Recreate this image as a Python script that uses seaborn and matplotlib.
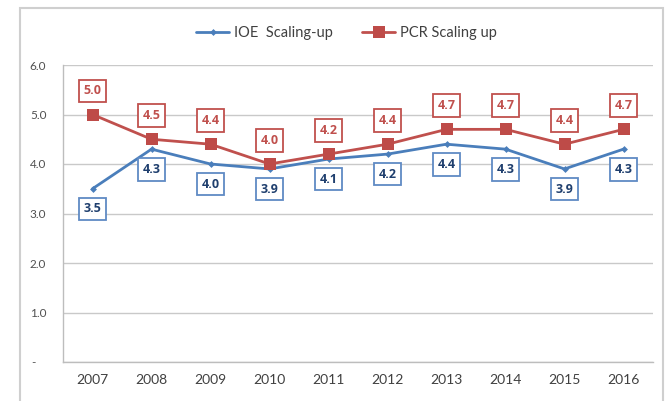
import matplotlib
matplotlib.use("Agg")
import matplotlib.pyplot as plt
from matplotlib.patches import Rectangle
from matplotlib.transforms import ScaledTranslation
import numpy as np
import pandas as pd
import seaborn as sns

years = [2007, 2008, 2009, 2010, 2011, 2012, 2013, 2014, 2015, 2016]
ioe_scaling = [3.5, 4.3, 4.0, 3.9, 4.1, 4.2, 4.4, 4.3, 3.9, 4.3]
pcr_scaling = [5.0, 4.5, 4.4, 4.0, 4.2, 4.4, 4.7, 4.7, 4.4, 4.7]
ioe_name = "IOE  Scaling-up"
pcr_name = "PCR Scaling up"
y_ticks = [0, 1, 2, 3, 4, 5, 6]
y_tick_labels = ["-", "1.0", "2.0", "3.0", "4.0", "5.0", "6.0"]

blue = "#4A7EBB"
blue_text = "#1F3F6E"
red = "#C0504D"
grid_col = "#C9C9C9"

sns.set_style("white")
plt.rcParams["font.family"] = ["Lato", "DejaVu Sans"]

df = pd.DataFrame({"year": years, "ioe": ioe_scaling, "pcr": pcr_scaling})

fig = plt.figure(figsize=(6.71, 4.01), dpi=100)
ax = fig.add_axes([63 / 671, 39 / 401, 590 / 671, 297 / 401])

sns.lineplot(data=df, x="year", y="ioe", ax=ax, color=blue, lw=2.0,
             marker="D", markersize=3.5, markeredgewidth=0, label=ioe_name,
             zorder=3)
sns.lineplot(data=df, x="year", y="pcr", ax=ax, color=red, lw=2.0,
             marker="s", markersize=8.5, markeredgewidth=0, markerfacecolor="#BE4B48",
             label=pcr_name, zorder=4)

# value boxes: PCR above, IOE below
box_font = ["Open Sans", "DejaVu Sans"]
for x, v in zip(years, pcr_scaling):
    ax.annotate(f"{v:.1f}", (x, v), xytext=(0, 17), textcoords="offset points",
                ha="center", va="center", fontsize=9, fontweight="bold", color=red,
                family=box_font,
                bbox=dict(boxstyle="square,pad=0.38", fc="white", ec=red, lw=1.3),
                zorder=6)
for x, v in zip(years, ioe_scaling):
    ax.annotate(f"{v:.1f}", (x, v), xytext=(0, -14.5), textcoords="offset points",
                ha="center", va="center", fontsize=9, fontweight="bold", color=blue_text,
                family=box_font,
                bbox=dict(boxstyle="square,pad=0.38", fc="white", ec="#5F8AC4", lw=1.3),
                zorder=5)

ax.set_xlim(years[0] - 0.5, years[-1] + 0.5)
ax.set_ylim(0, 6)
ax.set_xticks(years)
ax.set_xticklabels([str(y) for y in years])
ax.set_xticks(np.arange(years[0] - 0.5, years[-1] + 1, 1.0), minor=True)
ax.set_yticks(y_ticks)
ax.set_yticklabels(y_tick_labels)
ax.set_xlabel("")
ax.set_ylabel("")

ax.grid(axis="y", color=grid_col, lw=1.0, zorder=0)
ax.set_axisbelow(True)
for s in ["top", "right"]:
    ax.spines[s].set_visible(False)
for s in ["left", "bottom"]:
    ax.spines[s].set_color("#BDBDBD")
    ax.spines[s].set_linewidth(1.0)

ax.tick_params(axis="x", which="major", length=0, pad=9, labelsize=10, labelcolor="#404040")
ax.tick_params(axis="x", which="minor", length=4, width=1, color="#BDBDBD", direction="out")
ax.tick_params(axis="y", which="major", length=3, width=1, color="#BDBDBD", direction="out",
               pad=9, labelsize=8.5, labelcolor="#505050")

# the zero label sits a little left of the other labels
zero_lbl = ax.get_yticklabels()[0]
zero_lbl.set_transform(zero_lbl.get_transform() + ScaledTranslation(-8 / 72, 0, fig.dpi_scale_trans))

leg = ax.legend(loc="center", bbox_to_anchor=(0.516, 0.918), bbox_transform=fig.transFigure,
                ncol=2, frameon=False, fontsize=10.5, handlelength=2.3, columnspacing=2.0,
                handletextpad=0.3)
for t in leg.get_texts():
    t.set_color("#404040")

# chart frame
fig.patches.append(Rectangle((20 / 671, -0.02), 643 / 671, 1.02 - 8 / 401,
                             transform=fig.transFigure, fill=False,
                             ec="#CFCFCF", lw=1.5, zorder=0))

fig.savefig("out.png", dpi=100)
